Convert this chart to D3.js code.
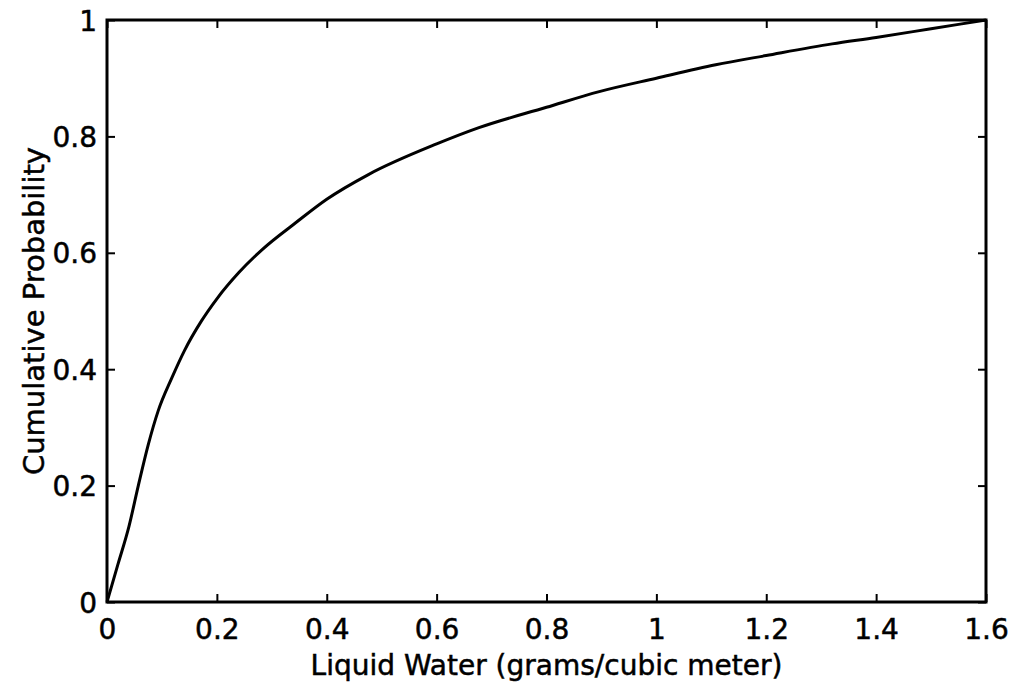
<!DOCTYPE html>
<html>
<head>
<meta charset="utf-8">
<script src="https://cdn.jsdelivr.net/npm/d3@7"></script>
<style>
  html, body { margin: 0; padding: 0; background: #fff; }
  svg { display: block; }
  text { font-family: "DejaVu Sans", "Liberation Sans", Arial, sans-serif; fill: #000; }
</style>
</head>
<body>
<svg id="chart" width="1012" height="690"></svg>
<script>
// Data
const liquidWater = [0, 0.02, 0.04, 0.057, 0.075, 0.093, 0.118, 0.141, 0.172, 0.2, 0.24, 0.283, 0.344, 0.4, 0.475, 0.6, 0.677, 0.8, 0.896, 1.0, 1.108, 1.2, 1.32, 1.4, 1.5, 1.6];
const cumProb     = [0, 0.065, 0.13, 0.2, 0.27, 0.328, 0.385, 0.432, 0.483, 0.521, 0.566, 0.606, 0.652, 0.692, 0.734, 0.787, 0.815, 0.85, 0.877, 0.900, 0.923, 0.939, 0.959, 0.970, 0.985, 1.0];
const xTicks = [0, 0.2, 0.4, 0.6, 0.8, 1, 1.2, 1.4, 1.6];
const yTicks = [0, 0.2, 0.4, 0.6, 0.8, 1];
const xTitle = "Liquid Water (grams/cubic meter)";
const yTitle = "Cumulative Probability";

const svg = d3.select("#chart");
const W = 1012, H = 690;
const margin = { left: 107, right: W - 986, top: 20, bottom: H - 602 };
const x = d3.scaleLinear().domain([0, 1.6]).range([margin.left, W - margin.right]);
const y = d3.scaleLinear().domain([0, 1]).range([H - margin.bottom, margin.top]);

const fmt = d => String(+d.toFixed(1));
const FONT = '"DejaVu Sans", "Liberation Sans", Arial, sans-serif';
const tickFont = 28;

// bottom axis
const gx = svg.append("g").attr("transform", `translate(0,${y(0)})`)
  .call(d3.axisBottom(x).tickValues(xTicks).tickFormat(fmt).tickSizeInner(-8).tickSizeOuter(0).tickPadding(17));
// top axis (mirrored ticks, no labels)
const gxt = svg.append("g").attr("transform", `translate(0,${y(1)})`)
  .call(d3.axisTop(x).tickValues(xTicks).tickFormat("").tickSizeInner(-8).tickSizeOuter(0));
// left axis
const gy = svg.append("g").attr("transform", `translate(${x(0)},0)`)
  .call(d3.axisLeft(y).tickValues(yTicks).tickFormat(fmt).tickSizeInner(-8).tickSizeOuter(0).tickPadding(10));
// right axis
const gyr = svg.append("g").attr("transform", `translate(${x(1.6)},0)`)
  .call(d3.axisRight(y).tickValues(yTicks).tickFormat("").tickSizeInner(-8).tickSizeOuter(0));

[gx, gxt, gy, gyr].forEach(g => {
  g.select(".domain").remove();
  g.selectAll(".tick line").attr("stroke", "#000").attr("stroke-width", 2);
  g.selectAll(".tick text")
    .style("font-family", FONT)
    .style("font-size", tickFont + "px")
    .attr("fill", "#000")
    .attr("stroke", "#000").attr("stroke-width", 0.5);
});
gy.selectAll(".tick text").attr("dy", "0.36em");

// frame
svg.append("rect")
  .attr("x", x(0)).attr("y", y(1))
  .attr("width", x(1.6) - x(0)).attr("height", y(0) - y(1))
  .attr("fill", "none").attr("stroke", "#000").attr("stroke-width", 3);

// curve
const line = d3.line()
  .x((d, i) => x(liquidWater[i]))
  .y((d, i) => y(cumProb[i]))
  .curve(d3.curveMonotoneX);
svg.append("path")
  .datum(cumProb)
  .attr("d", line)
  .attr("fill", "none")
  .attr("stroke", "#000")
  .attr("stroke-width", 3)
  .attr("stroke-linejoin", "round");

// axis titles
svg.append("text")
  .attr("x", (x(0) + x(1.6)) / 2)
  .attr("y", 675)
  .attr("text-anchor", "middle")
  .style("font-size", "28px")
  .attr("stroke", "#000").attr("stroke-width", 0.5)
  .text(xTitle);

svg.append("text")
  .attr("transform", `translate(44,${(y(0) + y(1)) / 2}) rotate(-90)`)
  .attr("text-anchor", "middle")
  .style("font-size", "29px")
  .attr("stroke", "#000").attr("stroke-width", 0.5)
  .text(yTitle);
</script>
</body>
</html>
